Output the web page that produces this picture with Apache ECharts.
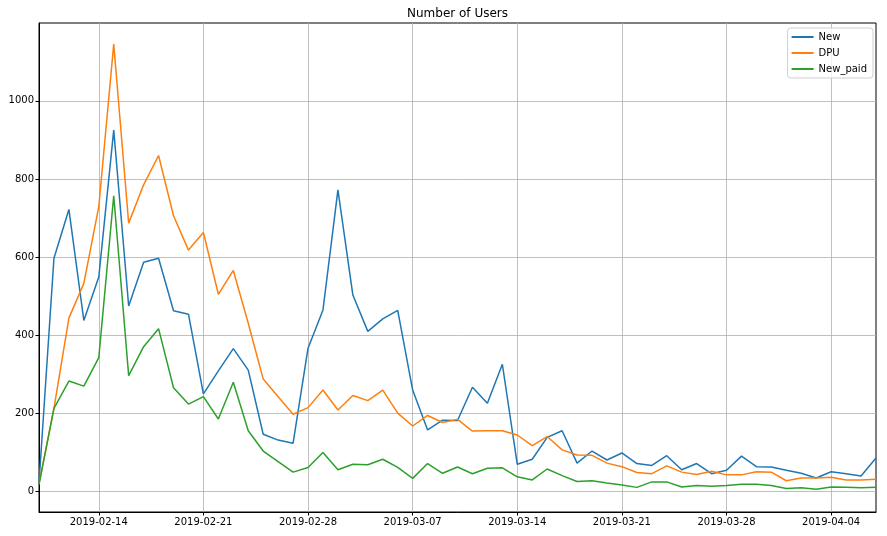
<!DOCTYPE html>
<html>
<head>
<meta charset="utf-8">
<script src="https://cdn.jsdelivr.net/npm/echarts@6/dist/echarts.min.js"></script>
<style>html,body{margin:0;padding:0;background:#fff;}#c{width:887px;height:536px;}</style>
</head>
<body>
<div id="c"></div>
<script>
const dates = [
"2019-02-10","2019-02-11","2019-02-12","2019-02-13","2019-02-14","2019-02-15","2019-02-16","2019-02-17","2019-02-18","2019-02-19",
"2019-02-20","2019-02-21","2019-02-22","2019-02-23","2019-02-24","2019-02-25","2019-02-26","2019-02-27","2019-02-28","2019-03-01",
"2019-03-02","2019-03-03","2019-03-04","2019-03-05","2019-03-06","2019-03-07","2019-03-08","2019-03-09","2019-03-10","2019-03-11",
"2019-03-12","2019-03-13","2019-03-14","2019-03-15","2019-03-16","2019-03-17","2019-03-18","2019-03-19","2019-03-20","2019-03-21",
"2019-03-22","2019-03-23","2019-03-24","2019-03-25","2019-03-26","2019-03-27","2019-03-28","2019-03-29","2019-03-30","2019-03-31",
"2019-04-01","2019-04-02","2019-04-03","2019-04-04","2019-04-05","2019-04-06","2019-04-07"];
const tickDates = ["2019-02-14","2019-02-21","2019-02-28","2019-03-07","2019-03-14","2019-03-21","2019-03-28","2019-04-04"];
const newUsers = [22,597,722,438,549,925,475,587,597,463,454,250,309,366,311,147,132,124,367,465,772,503,410,442,464,260,158,183,182,267,226,326,70,83,139,156,73,104,81,99,72,67,92,56,72,46,55,91,64,63,55,47,35,51,46,40,86];
const dpu = [20,213,444,533,729,1145,687,785,860,706,618,663,505,566,431,288,243,198,215,260,209,246,233,260,201,168,195,177,185,155,156,156,145,118,141,107,94,93,73,64,49,46,66,50,44,52,43,43,51,50,28,35,35,37,30,30,32];
const newPaid = [18,213,283,270,343,757,297,371,417,266,224,243,186,280,156,104,77,50,62,100,56,70,69,83,62,34,72,47,63,46,60,61,38,30,58,41,26,28,22,17,11,25,25,12,16,14,16,19,19,16,8,10,6,12,11,10,11];
const yTicks = [0,200,400,600,800,1000];

const chart = echarts.init(document.getElementById('c'), null, {renderer:'canvas'});
const showIdx = (i) => tickDates.indexOf(dates[i]) >= 0;
const font = 'DejaVu Sans';
function mk(name, data, color){
  return {name, type:'line', data, symbol:'none', smooth:false,
    lineStyle:{color, width:1.5}, itemStyle:{color}, animation:false};
}
chart.setOption({
  animation:false,
  title:{text:'Number of Users', left:452.5, textAlign:'center', top:3,
    textStyle:{fontFamily:font, fontSize:12, fontWeight:'normal', color:'#000'}},
  legend:{orient:'vertical', right:14, top:28, icon:'rect', itemWidth:22, itemHeight:2,
    itemGap:4, padding:[3,6,3,4], backgroundColor:'rgba(255,255,255,0.8)',
    borderColor:'#d0d0d0', borderWidth:1, borderRadius:3,
    textStyle:{fontFamily:font, fontSize:10, color:'#000', lineHeight:12},
    data:['New','DPU','New_paid']},
  grid:{left:39, right:11, top:23, bottom:24, show:true, borderColor:'#000', borderWidth:1, containLabel:false},
  xAxis:{type:'category', data:dates, boundaryGap:false,
    axisLine:{onZero:false, lineStyle:{color:'#000', width:1}},
    axisTick:{interval:(i)=>showIdx(i), length:3.5, lineStyle:{color:'#000'}},
    axisLabel:{interval:(i)=>showIdx(i), fontFamily:font, fontSize:10, color:'#000', margin:5},
    splitLine:{show:true, interval:(i)=>showIdx(i), lineStyle:{color:'#b0b0b0', width:0.8}}},
  yAxis:{type:'value', min:-52, max:1199, splitNumber:6,
    axisLine:{show:true, onZero:false, lineStyle:{color:'#000', width:1}},
    axisTick:{show:true, length:3.5, customValues:yTicks, lineStyle:{color:'#000'}},
    axisLabel:{fontFamily:font, fontSize:10, color:'#000', margin:5, customValues:yTicks,
      formatter:(v)=>String(v)},
    splitLine:{show:true, lineStyle:{color:'#b0b0b0', width:0.8}}},
  series:[mk('New', newUsers, '#1f77b4'), mk('DPU', dpu, '#ff7f0e'), mk('New_paid', newPaid, '#2ca02c')]
});
</script>
</body>
</html>
